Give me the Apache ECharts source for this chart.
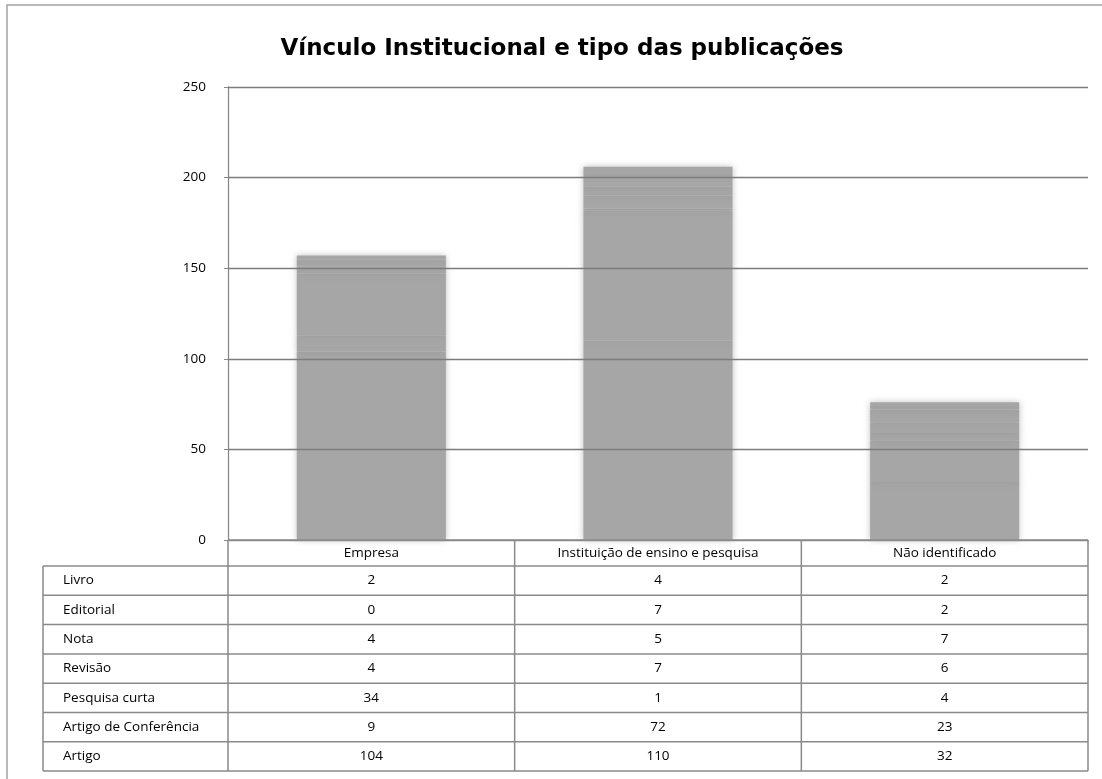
<!DOCTYPE html>
<html>
<head>
<meta charset="utf-8">
<title>Vínculo Institucional e tipo das publicações</title>
<script src="https://cdn.jsdelivr.net/npm/echarts@6/dist/echarts.min.js"></script>
<style>
  html, body { margin: 0; padding: 0; background: #fff; }
  #chart { width: 1102px; height: 779px; }
</style>
</head>
<body>
<div id="chart"></div>
<script>
// Institution types (columns of the data table / bar categories)
const categories = ['Empresa', 'Instituição de ensino e pesquisa', 'Não identificado'];

// Publication types, in the order they are listed in the table (top to bottom)
const typeNames = ['Livro', 'Editorial', 'Nota', 'Revisão', 'Pesquisa curta', 'Artigo de Conferência', 'Artigo'];

// Counts per publication type, one value per institution type
const livro       = [2, 4, 2];
const editorial   = [0, 7, 2];
const nota        = [4, 5, 7];
const revisao     = [4, 7, 6];
const pesquisaCur = [34, 1, 4];
const artigoConf  = [9, 72, 23];
const artigo      = [104, 110, 32];

const typeValues = [livro, editorial, nota, revisao, pesquisaCur, artigoConf, artigo];

// Value axis ticks
const yTicks = [0, 50, 100, 150, 200, 250];

const FONT = '"Open Sans", Lato, sans-serif';
const TITLE_FONT = '"DejaVu Sans", "Open Sans", sans-serif';
const LINE = '#8a8a8a';

const chart = echarts.init(document.getElementById('chart'), null, { renderer: 'canvas' });

// Stack from the bottom: Artigo first, Livro on top
const stackOrder = typeNames.map((n, i) => i).reverse();
const series = stackOrder.map((idx, k) => {
  const s = {
    name: typeNames[idx],
    type: 'bar',
    stack: 'total',
    barWidth: '52%',
    data: typeValues[idx],
    itemStyle: {
      color: '#a6a6a6',
      shadowBlur: 6,
      shadowColor: 'rgba(150,150,150,0.6)'
    },
    emphasis: { disabled: true }
  };
  if (k === stackOrder.length - 1) {
    // horizontal gridlines painted above the columns
    s.markLine = {
      silent: true,
      symbol: 'none',
      label: { show: false },
      lineStyle: { color: '#7c7c7c', width: 1.3, type: 'solid' },
      data: yTicks.slice(1).map(v => ({ yAxis: v }))
    };
  }
  return s;
});

chart.setOption({
  animation: false,
  backgroundColor: '#ffffff',
  textStyle: { fontFamily: FONT },
  title: {
    text: 'Vínculo Institucional e tipo das publicações',
    left: 557,
    textAlign: 'center',
    top: 33,
    textStyle: { fontFamily: TITLE_FONT, fontWeight: 'bold', fontSize: 23, color: '#000' }
  },
  grid: { left: 228, right: 14, top: 87, bottom: 239 },
  xAxis: {
    type: 'category',
    data: categories,
    axisLine: { show: true, lineStyle: { color: LINE, width: 1.3 } },
    axisTick: { show: false },
    axisLabel: { show: false },
    splitLine: { show: false }
  },
  yAxis: {
    type: 'value',
    min: yTicks[0],
    max: yTicks[yTicks.length - 1],
    interval: 50,
    axisLine: { show: true, lineStyle: { color: LINE, width: 1.3 } },
    axisTick: { show: true, length: 4, lineStyle: { color: LINE } },
    axisLabel: { margin: 22, fontFamily: FONT, fontSize: 13.5, color: '#000' },
    splitLine: { show: false }
  },
  series: series
});

// Data table under the plot, aligned to the category bands
function buildTable() {
  const c0 = chart.convertToPixel({ xAxisIndex: 0 }, 0);
  const c1 = chart.convertToPixel({ xAxisIndex: 0 }, 1);
  const band = c1 - c0;
  const colLeft = c0 - band / 2;
  const colRight = colLeft + band * categories.length;
  const top = chart.convertToPixel({ yAxisIndex: 0 }, 0);
  const headerH = 26;
  const rowH = 29.3;
  const labelLeft = 43;
  const bodyTop = top + headerH;
  const bottom = bodyTop + rowH * typeNames.length;
  const els = [];
  const line = (x1, y1, x2, y2) => els.push({
    type: 'line', silent: true, z: 10,
    shape: { x1, y1, x2, y2 },
    style: { stroke: LINE, lineWidth: 1.5 }
  });
  const text = (x, y, t, align) => els.push({
    type: 'text', silent: true, z: 11,
    x, y,
    style: { text: t, fill: '#000', font: '13.5px ' + FONT, align: align, verticalAlign: 'middle' }
  });

  // outer frame of the chart area
  els.push({
    type: 'rect', silent: true, z: 0,
    shape: { x: 7, y: 5, width: 1110, height: 800 },
    style: { fill: null, stroke: '#a3a3a3', lineWidth: 1.5 }
  });

  // horizontal rules
  line(colLeft, top, colRight, top);
  for (let r = 0; r <= typeNames.length; r++) {
    const y = bodyTop + r * rowH;
    line(labelLeft, y, colRight, y);
  }
  // vertical rules
  line(labelLeft, bodyTop, labelLeft, bottom);
  for (let c = 0; c <= categories.length; c++) {
    const x = colLeft + c * band;
    line(x, top, x, bottom);
  }
  // header
  categories.forEach((cat, c) => text(colLeft + (c + 0.5) * band, top + headerH / 2, cat, 'center'));
  // body
  typeNames.forEach((name, r) => {
    const y = bodyTop + (r + 0.5) * rowH;
    text(labelLeft + 20, y, name, 'left');
    typeValues[r].forEach((v, c) => text(colLeft + (c + 0.5) * band, y, String(v), 'center'));
  });
  chart.setOption({ graphic: { elements: els } });
}
buildTable();
</script>
</body>
</html>
